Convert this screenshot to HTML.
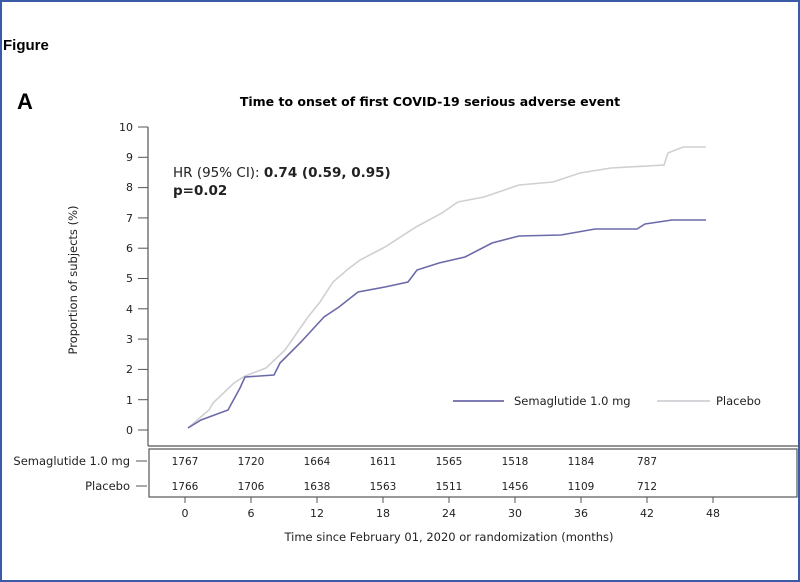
<!DOCTYPE html>
<html><head><style>
body{margin:0;background:#fff;}
svg{display:block;font-family:"DejaVu Sans","Liberation Sans",sans-serif;}
</style></head><body>
<svg width="800" height="582" viewBox="0 0 800 582">
<rect x="1" y="1" width="798" height="580" fill="#fff" stroke="#3b5ba8" stroke-width="2"/>
<text x="3" y="50" font-family="Liberation Sans" font-weight="bold" font-size="15">Figure</text>
<text x="17" y="109" font-family="Liberation Sans" font-weight="bold" font-size="22">A</text>
<text x="430" y="106" text-anchor="middle" font-weight="bold" font-size="12.5">Time to onset of first COVID-19 serious adverse event</text>
<g stroke="#555" stroke-width="1.2" fill="none">
<line x1="148" y1="127" x2="148" y2="446"/>
<line x1="148" y1="446" x2="800" y2="446"/>
</g>
<g stroke="#555" stroke-width="1">
<line x1="138" y1="127" x2="148" y2="127"/><line x1="138" y1="157.3" x2="148" y2="157.3"/><line x1="138" y1="187.6" x2="148" y2="187.6"/><line x1="138" y1="217.9" x2="148" y2="217.9"/><line x1="138" y1="248.2" x2="148" y2="248.2"/><line x1="138" y1="278.5" x2="148" y2="278.5"/><line x1="138" y1="308.8" x2="148" y2="308.8"/><line x1="138" y1="339.1" x2="148" y2="339.1"/><line x1="138" y1="369.4" x2="148" y2="369.4"/><line x1="138" y1="399.7" x2="148" y2="399.7"/><line x1="138" y1="430" x2="148" y2="430"/>
</g>
<g font-size="11" text-anchor="end" fill="#222">
<text x="133" y="131">10</text><text x="133" y="161">9</text><text x="133" y="191">8</text><text x="133" y="222">7</text><text x="133" y="252">6</text><text x="133" y="282">5</text><text x="133" y="313">4</text><text x="133" y="343">3</text><text x="133" y="373">2</text><text x="133" y="404">1</text><text x="133" y="434">0</text>
</g>
<text transform="translate(77,280) rotate(-90)" text-anchor="middle" font-size="11.5" fill="#222">Proportion of subjects (%)</text>
<text x="173" y="177" font-size="13.5" fill="#222">HR (95% CI): <tspan font-weight="bold">0.74 (0.59, 0.95)</tspan></text>
<text x="173" y="195" font-size="13.5" font-weight="bold" fill="#222">p=0.02</text>
<polyline fill="none" stroke="#d0d0d4" stroke-width="1.6" points="188,428 209,410 213,403 234,383 245,376 266,368 285,350 308,317 320,302 333,282 347,270 360,260 385,247 416,227 442,213 458,202 484,197 519,185 553,182 580,173 611,168 664,165 668,153 683,147 706,147"/>
<polyline fill="none" stroke="#6b6aa8" stroke-width="1.6" points="188,428 201,420 228,410 240,388 245,377 274,375 280,363 301,342 324,317 339,307 358,292 385,287 408,282 417,270 439,263 465,257 492,243 519,236 561,235 595,229 637,229 645,224 672,220 706,220"/>
<line x1="453" y1="401" x2="504" y2="401" stroke="#6b6aa8" stroke-width="1.8"/>
<text x="514" y="405" font-size="11.5" fill="#222">Semaglutide 1.0 mg</text>
<line x1="657" y1="401" x2="710" y2="401" stroke="#d0d0d4" stroke-width="1.8"/>
<text x="716" y="405" font-size="11.5" fill="#222">Placebo</text>
<rect x="149" y="449" width="648" height="48" fill="none" stroke="#555" stroke-width="1.2"/>
<g stroke="#555"><line x1="136" y1="461" x2="147" y2="461"/><line x1="136" y1="486" x2="147" y2="486"/></g>
<text x="130" y="465" text-anchor="end" font-size="11.5" fill="#222">Semaglutide 1.0 mg</text>
<text x="130" y="490" text-anchor="end" font-size="11.5" fill="#222">Placebo</text>
<g font-size="10.5" text-anchor="middle" fill="#222">
<text x="185" y="465">1767</text><text x="251" y="465">1720</text><text x="317" y="465">1664</text><text x="383" y="465">1611</text><text x="449" y="465">1565</text><text x="515" y="465">1518</text><text x="581" y="465">1184</text><text x="647" y="465">787</text>
<text x="185" y="490">1766</text><text x="251" y="490">1706</text><text x="317" y="490">1638</text><text x="383" y="490">1563</text><text x="449" y="490">1511</text><text x="515" y="490">1456</text><text x="581" y="490">1109</text><text x="647" y="490">712</text>
</g>
<g stroke="#555"><line x1="185" y1="497" x2="185" y2="503"/><line x1="251" y1="497" x2="251" y2="503"/><line x1="317" y1="497" x2="317" y2="503"/><line x1="383" y1="497" x2="383" y2="503"/><line x1="449" y1="497" x2="449" y2="503"/><line x1="515" y1="497" x2="515" y2="503"/><line x1="581" y1="497" x2="581" y2="503"/><line x1="647" y1="497" x2="647" y2="503"/><line x1="713" y1="497" x2="713" y2="503"/></g>
<g font-size="11" text-anchor="middle" fill="#222">
<text x="185" y="517">0</text><text x="251" y="517">6</text><text x="317" y="517">12</text><text x="383" y="517">18</text><text x="449" y="517">24</text><text x="515" y="517">30</text><text x="581" y="517">36</text><text x="647" y="517">42</text><text x="713" y="517">48</text>
</g>
<text x="449" y="541" text-anchor="middle" font-size="11.5" fill="#222">Time since February 01, 2020 or randomization (months)</text>
</svg>
</body></html>
